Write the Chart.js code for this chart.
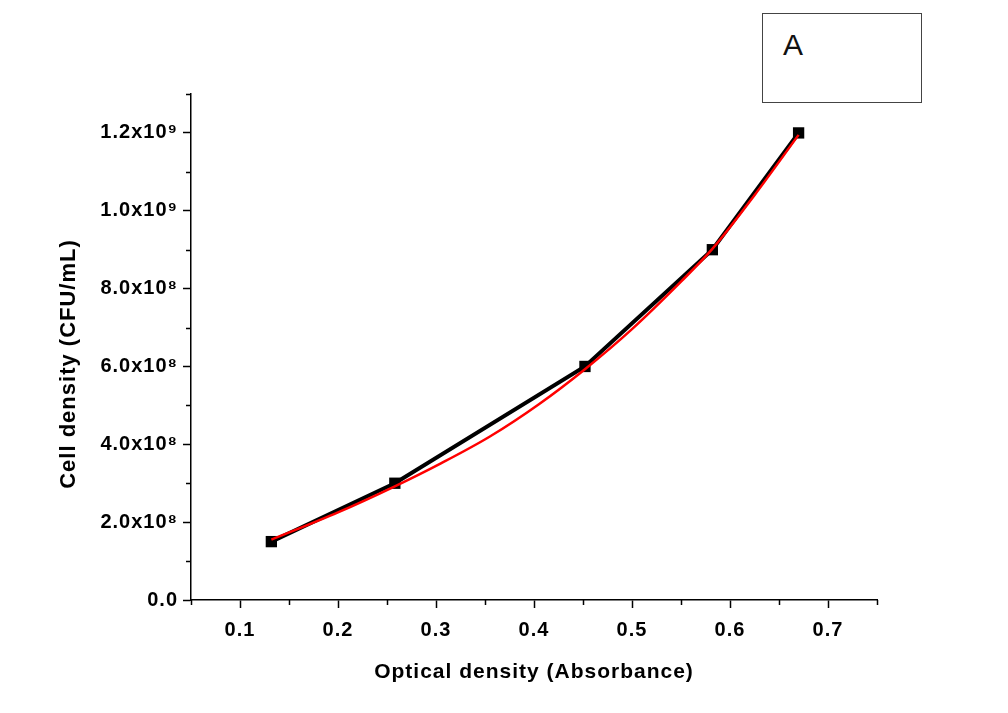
<!DOCTYPE html>
<html>
<head>
<meta charset="utf-8">
<script src="https://cdn.jsdelivr.net/npm/chart.js@4.4.1/dist/chart.umd.min.js"></script>
<style>
  html, body { margin: 0; padding: 0; background: #fff; }
  #wrap { position: relative; width: 1008px; height: 713px; }
  #c { position: absolute; left: 0; top: 0; }
  #boxA { position: absolute; left: 762px; top: 13px; width: 160px; height: 90px; box-sizing: border-box; border: 1.5px solid #444; background: #fff; }
  #boxA span { position: absolute; left: 20px; top: 16px; font-family: 'Liberation Sans', Arial, sans-serif; font-size: 30px; line-height: 1; color: #111; }
</style>
</head>
<body>
<div id="wrap">
  <canvas id="c" width="1008" height="713"></canvas>
  <div id="boxA"><span>A</span></div>
</div>
<script>
// Measured data (black markers + connecting line)
const odValues = [0.132, 0.258, 0.452, 0.582, 0.670];
const cfuValues = [1.5e8, 3.0e8, 6.0e8, 9.0e8, 1.2e9];

// Red fitted curve
const fitOd  = [0.132, 0.200, 0.258, 0.305, 0.355, 0.405, 0.452, 0.500, 0.550, 0.582, 0.625, 0.670];
const fitCfu = [1.55e8, 2.25e8, 2.92e8, 3.51e8, 4.20e8, 5.03e8, 5.93e8, 6.96e8, 8.18e8, 9.02e8, 10.40e8, 11.95e8];

// Axis ticks
const xTicks = [0.1, 0.2, 0.3, 0.4, 0.5, 0.6, 0.7];
const xTickLabels = ['0.1', '0.2', '0.3', '0.4', '0.5', '0.6', '0.7'];
const xMinorTicks = [0.05, 0.15, 0.25, 0.35, 0.45, 0.55, 0.65, 0.75];
const yTicks = [0, 2e8, 4e8, 6e8, 8e8, 1e9, 1.2e9];
const yTickLabels = ['0.0', '2.0x10\u2078', '4.0x10\u2078', '6.0x10\u2078', '8.0x10\u2078', '1.0x10\u2079', '1.2x10\u2079'];
const yMinorTicks = [1e8, 3e8, 5e8, 7e8, 9e8, 1.1e9, 1.3e9];

const yTitle = 'Cell density (CFU/mL)';
const xTitle = 'Optical density (Absorbance)';

const FONT = "'Liberation Sans', Arial, sans-serif";

const spacingPlugin = {
  id: 'spacing',
  beforeUpdate(chart) { chart.ctx.letterSpacing = '1px'; },
  beforeDraw(chart) { chart.ctx.letterSpacing = '1px'; }
};

const extrasPlugin = {
  id: 'extras',
  afterDraw(chart) {
    const ctx = chart.ctx;
    const xs = chart.scales.x, ys = chart.scales.y;
    ctx.save();
    // minor ticks
    ctx.strokeStyle = '#000';
    ctx.lineWidth = 1.5;
    ctx.beginPath();
    xMinorTicks.forEach(v => {
      const px = Math.round(xs.getPixelForValue(v)) + 0.5;
      ctx.moveTo(px, xs.top);
      ctx.lineTo(px, xs.top + 5);
    });
    yMinorTicks.forEach(v => {
      const py = Math.round(ys.getPixelForValue(v)) + 0.5;
      ctx.moveTo(ys.right, py);
      ctx.lineTo(ys.right - 5, py);
    });
    ctx.stroke();
    // y axis title (placed slightly below the axis centre, as in the original)
    ctx.letterSpacing = '1px';
    ctx.fillStyle = '#000';
    ctx.font = 'bold 22px ' + FONT;
    ctx.textAlign = 'center';
    ctx.textBaseline = 'middle';
    ctx.translate(ys.left + 69, (ys.top + ys.bottom) / 2 + 17);
    ctx.rotate(-Math.PI / 2);
    ctx.fillText(yTitle, 0, 0);
    ctx.restore();
  }
};

new Chart(document.getElementById('c'), {
  type: 'line',
  data: {
    datasets: [
      {
        label: 'Fit',
        data: fitOd.map((x, i) => ({ x: x, y: fitCfu[i] })),
        borderColor: '#ff0000',
        borderWidth: 2.5,
        pointRadius: 0,
        cubicInterpolationMode: 'monotone',
        fill: false
      },
      {
        label: 'Cell density',
        data: odValues.map((x, i) => ({ x: x, y: cfuValues[i] })),
        borderColor: '#000',
        backgroundColor: '#000',
        borderWidth: 4,
        tension: 0,
        pointStyle: 'rect',
        pointRadius: 8,
        pointBorderWidth: 0,
        pointBackgroundColor: '#000',
        fill: false
      }
    ]
  },
  options: {
    responsive: false,
    animation: false,
    devicePixelRatio: 1,
    layout: { padding: { top: 94, right: 131, left: 0, bottom: 0 } },
    plugins: { legend: { display: false }, tooltip: { enabled: false } },
    scales: {
      x: {
        type: 'linear',
        min: 0.05,
        max: 0.75,
        afterBuildTicks: s => { s.ticks = xTicks.map(v => ({ value: v })); },
        afterFit: s => { s.height = 113; },
        grid: { drawOnChartArea: false, drawTicks: true, tickLength: 8, tickColor: '#000', tickWidth: 1.5 },
        border: { display: true, color: '#000', width: 1.5 },
        ticks: {
          padding: 10,
          maxRotation: 0,
          autoSkip: false,
          color: '#000',
          font: { family: FONT, size: 20, weight: 'bold' },
          callback: (v) => { const i = xTicks.findIndex(t => Math.abs(t - v) < 1e-9); return i >= 0 ? xTickLabels[i] : ''; }
        },
        title: {
          display: true,
          text: xTitle,
          color: '#000',
          font: { family: FONT, size: 21, weight: 'bold' },
          padding: { top: 0, bottom: 28 }
        }
      },
      y: {
        type: 'linear',
        min: 0,
        max: 1.3e9,
        afterBuildTicks: s => { s.ticks = yTicks.map(v => ({ value: v })); },
        afterFit: s => { s.width = 191; },
        grid: { drawOnChartArea: false, drawTicks: true, tickLength: 8, tickColor: '#000', tickWidth: 1.5 },
        border: { display: true, color: '#000', width: 1.5 },
        ticks: {
          padding: 5,
          autoSkip: false,
          color: '#000',
          font: { family: FONT, size: 20, weight: 'bold' },
          callback: (v) => { const i = yTicks.findIndex(t => Math.abs(t - v) < 1); return i >= 0 ? yTickLabels[i] : ''; }
        },
        title: { display: false, text: yTitle }
      }
    }
  },
  plugins: [spacingPlugin, extrasPlugin]
});
</script>
</body>
</html>
